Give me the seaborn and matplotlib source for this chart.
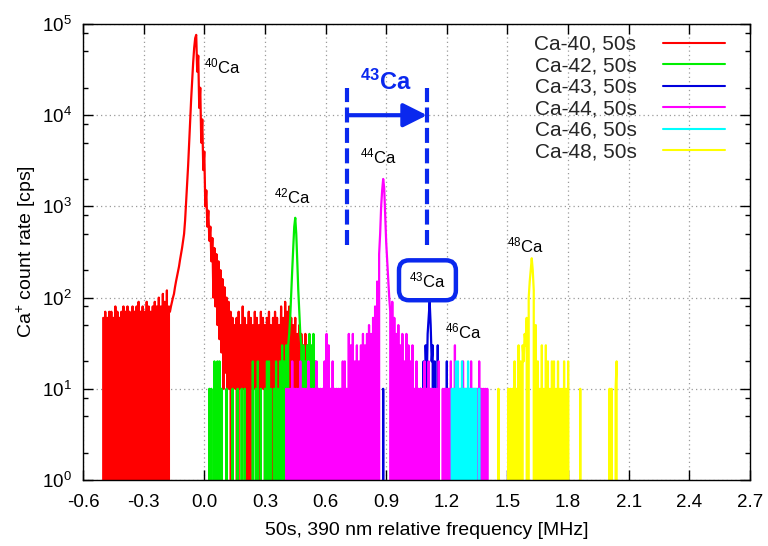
import matplotlib.pyplot as plt
import numpy as np
import pandas as pd
import seaborn as sns
from matplotlib.ticker import LogLocator, MultipleLocator, FormatStrFormatter, NullFormatter

# scan step of every trace [MHz], count rates in cps
step = 0.005

ca40_start = -0.500
ca40_rate = [
    60, 0, 70, 0, 60, 0, 70, 0, 70, 0,
    60, 0, 80, 0, 70, 0, 60, 0, 70, 0,
    80, 0, 70, 0, 80, 0, 70, 60, 0, 80,
    0, 70, 0, 80, 0, 90, 0, 70, 0, 80,
    0, 70, 0, 90, 0, 80, 0, 70, 0, 80,
    0, 90, 0, 80, 0, 100, 0, 80, 0, 110,
    0, 90, 0, 120, 0, 80, 70, 80, 90, 100,
    110, 130, 150, 170, 190, 220, 260, 300, 350, 420,
    500, 700, 1100, 1700, 2800, 5000, 9000, 15000, 24000, 38000,
    55000, 70000, 76000, 30000, 45000, 12000, 20000, 5000, 9000, 2500,
    4000, 1000, 1500, 600, 900, 420, 600, 250, 450, 100,
    350, 80, 300, 50, 250, 35, 200, 25, 160, 10,
    130, 15, 100, 10, 90, 10, 70, 0, 60, 10,
    50, 10, 60, 0, 70, 10, 50, 10, 80, 10,
    60, 0, 50, 10, 70, 0, 60, 10, 50, 10,
    70, 10, 60, 0, 50, 10, 70, 10, 60, 10,
    50, 0, 60, 10, 70, 10, 50, 0, 60, 10,
    70, 10, 60, 0, 50, 10, 80, 10, 60, 0,
    90, 10, 70, 0, 80, 10, 60, 0, 50, 10,
    60, 0, 40, 10, 50, 0, 40, 10, 30, 0,
    40, 0, 30, 0,
]

ca42_start = 0.020
ca42_rate = [
    0, 10, 0, 10, 0, 0, 20, 0, 0, 20,
    0, 20, 0, 10, 0, 0, 0, 0, 10, 0,
    0, 0, 0, 0, 10, 0, 0, 0, 0, 10,
    0, 0, 0, 10, 0, 0, 10, 0, 0, 0,
    0, 0, 0, 0, 20, 0, 0, 10, 0, 20,
    0, 0, 10, 0, 0, 0, 10, 0, 20, 0,
    20, 0, 10, 0, 0, 10, 0, 20, 0, 10,
    0, 20, 0, 30, 0, 20, 0, 30, 0, 30,
    40, 60, 110, 200, 350, 600, 750, 500, 250, 120,
    70, 40, 30, 0, 30, 10, 20, 0, 30, 0,
    40, 0, 30, 0, 40, 0, 20, 0, 10, 0,
]

ca43_start = 0.880
ca43_rate = [
    0, 10, 0, 0, 0, 0, 0, 0, 0, 0,
    0, 0, 0, 0, 0, 0, 0, 0, 0, 0,
    0, 0, 0, 0, 0, 0, 0, 0, 0, 0,
    0, 0, 0, 0, 0, 0, 0, 0, 10, 0,
    0, 20, 0, 30, 10, 40, 60, 90, 50, 20,
    30, 0, 20, 0, 0, 30, 0, 0, 0, 0,
    0, 0, 0, 0, 20, 0,
]

ca44_start = 0.400
ca44_rate = [
    0, 10, 0, 10, 0, 10, 0, 20, 0, 10,
    0, 10, 0, 10, 0, 20, 0, 10, 0, 10,
    0, 10, 0, 20, 0, 10, 0, 10, 0, 10,
    0, 20, 0, 10, 0, 10, 0, 10, 0, 20,
    0, 40, 0, 30, 0, 10, 0, 20, 0, 10,
    0, 10, 0, 10, 0, 10, 0, 20, 0, 20,
    0, 10, 0, 40, 0, 30, 0, 40, 0, 20,
    0, 30, 0, 20, 0, 30, 0, 40, 0, 30,
    0, 40, 0, 50, 0, 40, 0, 60, 0, 80,
    0, 150, 0, 300, 500, 1000, 1500, 2000, 1600, 800,
    400, 250, 150, 100, 70, 0, 90, 0, 60, 0,
    40, 0, 50, 0, 30, 0, 40, 0, 20, 0,
    40, 0, 30, 0, 20, 0, 30, 0, 10, 0,
    20, 0, 10, 0, 10, 0, 10, 0, 20, 0,
    10, 0, 20, 0, 10, 0, 10, 0, 10, 0,
    10, 0, 20, 0, 0, 0, 10, 0, 10, 0,
    10, 0, 10, 0, 20, 0, 10, 0, 30, 0,
    10, 0, 10, 0, 10, 0, 20, 0, 10, 0,
    10, 0, 10, 0, 20, 0, 10, 0, 10, 0,
    10, 0, 20, 0, 10, 0, 10, 0, 10, 0,
    10, 0,
]

ca46_start = 1.180
ca46_rate = [
    0, 0, 0, 0, 0, 0, 0, 0, 0, 10,
    0, 10, 0, 20, 0, 20, 0, 10, 0, 20,
    0, 10, 0, 10, 0, 20, 0, 10, 0, 10,
    0, 10, 0, 10, 0, 0, 10, 0, 0, 0,
]

ca48_start = 1.450
ca48_rate = [
    0, 10, 0, 0, 0, 0, 0, 0, 0, 0,
    0, 10, 0, 10, 0, 10, 0, 20, 0, 10,
    0, 30, 0, 20, 0, 30, 20, 40, 30, 60,
    0, 100, 150, 200, 270, 200, 120, 0, 50, 0,
    20, 0, 10, 0, 30, 0, 10, 0, 30, 0,
    20, 0, 10, 0, 20, 0, 20, 0, 10, 0,
    20, 0, 10, 0, 10, 0, 20, 0, 10, 0,
    20, 0, 0, 0, 0, 0, 0, 0, 0, 0,
    0, 0, 10, 0, 0, 0, 0, 0, 0, 0,
    0, 0, 0, 0, 0, 0, 0, 0, 0, 0,
    0, 0, 0, 0, 0, 0, 0, 0, 0, 0,
    0, 10, 0, 10, 0, 0, 0, 10, 20, 0,
]

isotopes = ["Ca-40", "Ca-42", "Ca-43", "Ca-44", "Ca-46", "Ca-48"]
starts = [ca40_start, ca42_start, ca43_start, ca44_start, ca46_start, ca48_start]
rates = [ca40_rate, ca42_rate, ca43_rate, ca44_rate, ca46_rate, ca48_rate]
colors = ["#ff0000", "#00ee00", "#0000dd", "#ff00ff", "#00ffff", "#ffff00"]
blue = "#0a28ee"

frames = []
for name, start, rate in zip(isotopes, starts, rates):
    freq = start + step * np.arange(len(rate))
    frames.append(pd.DataFrame({"freq": freq, "rate": rate, "isotope": name}))
df = pd.concat(frames, ignore_index=True)

sns.set_theme(style="ticks")
plt.rcParams["font.family"] = ["Liberation Sans", "DejaVu Sans"]
plt.rcParams["mathtext.fontset"] = "custom"
plt.rcParams["mathtext.rm"] = "Liberation Sans"
plt.rcParams["mathtext.bf"] = "Liberation Sans:bold"
plt.rcParams["mathtext.it"] = "Liberation Sans:italic"
plt.rcParams["axes.unicode_minus"] = False

fig = plt.figure(figsize=(7.68, 5.46), dpi=100)
ax = fig.add_axes([0.1081, 0.1209, 0.8685, 0.8351])

sns.lineplot(data=df, x="freq", y="rate", hue="isotope", hue_order=isotopes,
             palette=colors, estimator=None, linewidth=1.6, legend=False, ax=ax)
trace_lines = list(ax.lines)

ax.set_yscale("log", nonpositive="clip")
ax.set_xlim(-0.6, 2.7)
ax.set_ylim(1, 1e5)

ax.xaxis.set_major_locator(MultipleLocator(0.3))
ax.xaxis.set_major_formatter(FormatStrFormatter("%.1f"))
ax.yaxis.set_major_locator(LogLocator(base=10, numticks=10))
ax.yaxis.set_minor_locator(LogLocator(base=10, subs=(2, 5, 8), numticks=20))
ax.yaxis.set_minor_formatter(NullFormatter())
ax.tick_params(which="both", direction="in", top=True, right=True, color="black")
ax.tick_params(which="major", length=7, width=1, labelsize=13.5, labelcolor="black")
ax.tick_params(axis="x", which="major", pad=10)
ax.tick_params(axis="y", which="major", pad=8)
ax.tick_params(which="minor", length=3.5, width=1)
for s in ax.spines.values():
    s.set_linewidth(1.0)
    s.set_color("black")
ax.grid(True, which="major", color="#9a9a9a", linestyle=(0, (1, 2.5)), linewidth=0.9)
ax.set_axisbelow(True)

ax.set_xlabel("50s, 390 nm relative frequency [MHz]", fontsize=14, color="black")
ax.xaxis.set_label_coords(0.516, -0.092)
ax.set_ylabel("Ca$^{+}$ count rate [cps]", fontsize=14, labelpad=3, color="black")

# peak labels
peak_labels = ["$^{40}$Ca", "$^{42}$Ca", "$^{44}$Ca", "$^{46}$Ca", "$^{48}$Ca"]
label_x = [0.09, 0.435, 0.861, 1.281, 1.589]
label_y = [10**4.53, 10**3.11, 10**3.55, 10**1.63, 10**2.57]
for t, lx, ly in zip(peak_labels, label_x, label_y):
    ax.text(lx, ly, t, fontsize=12, ha="center", va="center", color="black")

ax.text(1.104, 10**2.19, "$^{43}$Ca", fontsize=12, ha="center", va="center", color="black",
        zorder=5, bbox=dict(boxstyle="round,pad=0.6,rounding_size=0.6", fc="white", ec=blue, lw=3.2))

# 43Ca scan window marker
window_x = [0.706, 1.102]
window_y = [378, 2.0e4]
for wx in window_x:
    ax.plot([wx, wx], window_y, color=blue, lw=3, linestyle=(0, (3.6, 1.3)), zorder=4)
ax.annotate("", xy=(window_x[1], 1e4), xytext=(window_x[0], 1e4),
            arrowprops=dict(arrowstyle="-|>", color=blue, lw=3, mutation_scale=36,
                            shrinkA=0, shrinkB=0), zorder=4)
ax.text(0.896, 10**4.36, r"$^{\mathbf{43}}$Ca", fontsize=17, fontweight="bold",
        color=blue, ha="center", va="center")

leg = ax.legend(handles=trace_lines, labels=[f"{n}, 50s" for n in isotopes],
                loc="upper right", bbox_to_anchor=(0.9625, 0.976), frameon=False,
                markerfirst=False, fontsize=15, handlelength=3.0, handletextpad=1.25,
                labelspacing=0.12, borderaxespad=0, borderpad=0)
for line in leg.get_lines():
    line.set_linewidth(1.5)

fig.savefig("out.png", dpi=100)
